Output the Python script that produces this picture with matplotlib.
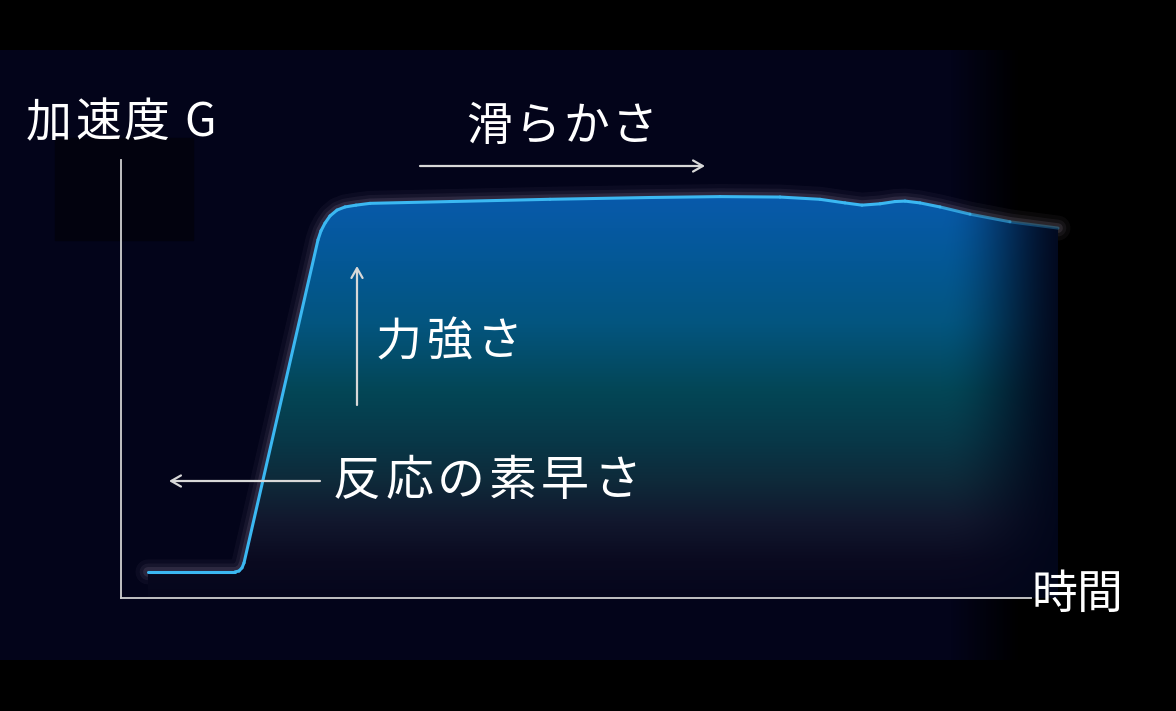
import numpy as np
import matplotlib.pyplot as plt
from matplotlib.patches import Rectangle
from matplotlib.collections import LineCollection

plt.rcParams['font.family'] = ['Noto Sans CJK JP', 'DejaVu Sans']

# acceleration curve (time, G) in arbitrary units
time = [0.27, 0.79, 1.14, 1.18, 1.21, 1.23, 1.97, 2.00, 2.04, 2.09, 2.16, 2.24,
        2.35, 2.49, 3.29, 4.29, 5.29, 5.99, 6.59, 6.99, 7.24, 7.41, 7.59, 7.74,
        7.84, 7.99, 8.19, 8.49, 8.89, 9.37]
accel = [0.058, 0.058, 0.058, 0.060, 0.067, 0.078, 0.796, 0.816, 0.833, 0.849,
         0.862, 0.869, 0.873, 0.877, 0.881, 0.886, 0.890, 0.892, 0.891, 0.886,
         0.878, 0.873, 0.876, 0.881, 0.882, 0.878, 0.869, 0.853, 0.836, 0.822]

ylabel = '加速度'
ylabel_unit = 'G'
xlabel = '時間'
notes = ['滑らかさ', '力強さ', '反応の素早さ']

W, H = 1176, 711
fig = plt.figure(figsize=(W / 100, H / 100), dpi=100, facecolor='black')

# background: navy band, fading to black on the right
bg = fig.add_axes([0, 0, 1, 1])
bg.set_xlim(0, W)
bg.set_ylim(H, 0)
bg.axis('off')
img = np.zeros((H, W, 3))
navy = np.array([3, 4, 26]) / 255
fade = np.clip((1020 - np.arange(W)) / 70, 0, 1)
img[50:660] = navy[None, None, :] * fade[None, :, None]
bg.imshow(img, extent=(0, W, H, 0), aspect='auto', interpolation='bilinear')
bg.add_patch(Rectangle((55, 138), 138, 102, color=(2 / 255, 2 / 255, 14 / 255), zorder=2))

# main chart axes: origin at pixel (121, 598)
ax = fig.add_axes([121 / W, 113 / H, 1000 / W, 450 / H])
ax.patch.set_alpha(0)
ax.set_xlim(0, 10)
ax.set_ylim(0, 1)
ax.set_xticks([])
ax.set_yticks([])
for s in ['top', 'right']:
    ax.spines[s].set_visible(False)
for s in ['left', 'bottom']:
    ax.spines[s].set_color('#d0d0d0')
    ax.spines[s].set_linewidth(1.3)
    ax.spines[s].set_zorder(6)
ax.spines['left'].set_bounds(0, 0.973)
ax.spines['bottom'].set_bounds(0, 9.1)

# glow around the curve
for lw, a in [(18, 0.04), (12, 0.06), (7, 0.10)]:
    ax.plot(time, accel, color='#e6cfee', lw=lw, alpha=a, solid_capstyle='round',
            solid_joinstyle='round', zorder=2)

# gradient fill under the curve
stops_y = [195, 260, 323, 390, 440, 480, 520, 560, 598]
stops_c = np.array([[8, 90, 172], [4, 88, 150], [3, 85, 127], [3, 70, 86],
                    [8, 56, 72], [14, 42, 58], [18, 24, 46], [10, 10, 32],
                    [5, 6, 28]]) / 255
edge = np.array([2, 6, 26]) / 255
rows = np.arange(148, 598)
cols = np.arange(121, 1121)
f = np.clip((1075 - cols) / 135, 0, 1)
f = f * f * (3 - 2 * f)
grad = np.ones((len(rows), len(cols), 4))
for k in range(3):
    grad[:, :, k] = np.interp(rows, stops_y, stops_c[:, k])[:, None] * f[None, :] \
        + edge[k] * (1 - f[None, :])
im = ax.imshow(grad, extent=(0, 10, 0, 1), aspect='auto', zorder=3, origin='upper')
poly = ax.fill_between(time, accel, 0, color='none', lw=0)
im.set_clip_path(poly.get_paths()[0], transform=ax.transData)

# the curve itself, fading at the far right
pts = np.column_stack([time, accel])
segs = np.stack([pts[:-1], pts[1:]], axis=1)
mid_t = (pts[:-1, 0] + pts[1:, 0]) / 2
seg_alpha = np.clip((9.6 - mid_t) / 1.6, 0.3, 1)
cols_line = [(0.23, 0.72, 0.95, a) for a in seg_alpha]
ax.add_collection(LineCollection(segs, colors=cols_line, linewidths=2.2,
                                 capstyle='round', joinstyle='round', zorder=4))

# overlay for labels and arrows (pixel coordinates)
ov = fig.add_axes([0, 0, 1, 1])
ov.patch.set_alpha(0)
ov.set_xlim(0, W)
ov.set_ylim(H, 0)
ov.axis('off')


def spaced(x0, y, s, adv, size=33):
    # place characters one by one to get the wide tracking of the original
    for i, ch in enumerate(s):
        ov.text(x0 + i * adv, y, ch, color='white', fontsize=size, ha='center',
                va='center')


spaced(49, 123, ylabel, 49)
spaced(200, 123, ylabel_unit, 0)
spaced(1054, 595, xlabel, 46)
spaced(489, 127, notes[0], 48.5)
spaced(399, 342, notes[1], 50.5)
spaced(357, 481, notes[2], 52, size=34.5)

akw = dict(arrowstyle='->,head_length=0.7,head_width=0.4', color='#d8d8d8', lw=1.6,
           shrinkA=0, shrinkB=0)
ov.annotate('', xy=(705, 166), xytext=(420, 166), arrowprops=akw)
ov.annotate('', xy=(357, 266), xytext=(357, 405), arrowprops=akw)
ov.annotate('', xy=(169, 481), xytext=(320, 481), arrowprops=akw)

fig.savefig('out.png', dpi=100, facecolor='black')
